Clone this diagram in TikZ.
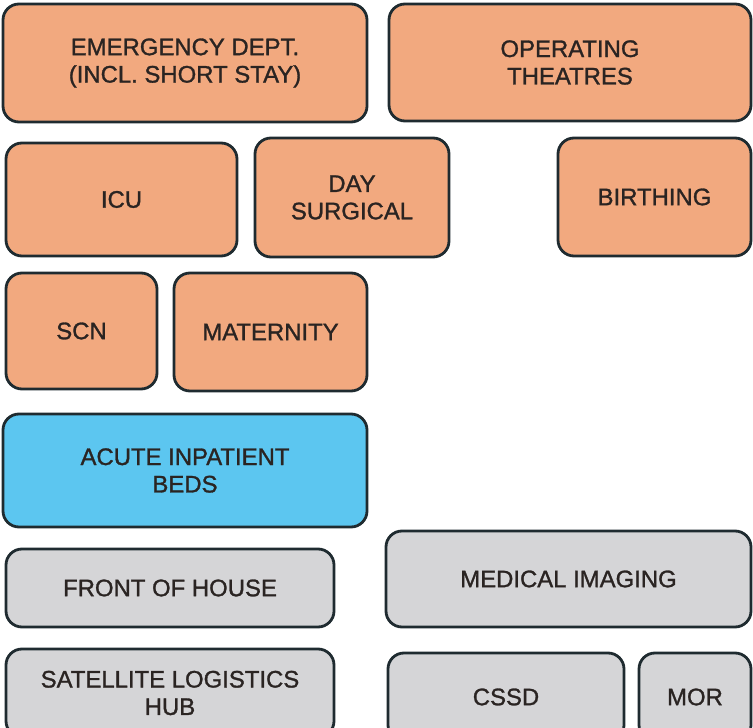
\documentclass[tikz,border=0pt]{standalone}
\usepackage{fontspec}
\setmainfont{Liberation Sans}
\newfontfamily\zonefont[FakeBold=1.2]{Liberation Sans}
\definecolor{Ward}{HTML}{F2A97F}
\definecolor{Beds}{HTML}{5CC6F0}
\definecolor{Support}{HTML}{D5D5D7}
\definecolor{Edge}{HTML}{1F2B30}
\definecolor{Ink}{HTML}{2A2422}

\begin{document}
\begin{tikzpicture}[x=0.25mm,y=-0.25mm,zone/.style={draw=Edge,line width=0.7mm,rounded corners=4mm,align=center,text=Ink,inner sep=0pt,font=\zonefont\fontsize{17}{19.5}\selectfont},ward/.style={zone,fill=Ward},beds/.style={zone,fill=Beds},support/.style={zone,fill=Support}]
    \useasboundingbox (0,0) rectangle (753,728);
    % clinical zones
    \node[ward,minimum width=91mm,minimum height=29.5mm] (ed) at (185,63) {EMERGENCY DEPT.\\(INCL. SHORT STAY)};
    \node[ward,minimum width=90.5mm,minimum height=29.25mm] (ot) at (570,62.5) {OPERATING\\THEATRES};
    \node[ward,minimum width=57.75mm,minimum height=28.25mm] (icu) at (121.5,199.5) {ICU};
    \node[ward,minimum width=48.5mm,minimum height=29.75mm] (day) at (352,197.5) {DAY\\SURGICAL};
    \node[ward,minimum width=48.25mm,minimum height=29.5mm] (birth) at (654.5,197) {BIRTHING};
    \node[ward,minimum width=37.75mm,minimum height=29mm] (scn) at (81.5,331) {SCN};
    \node[ward,minimum width=48.25mm,minimum height=29.5mm] (mat) at (270.5,332) {MATERNITY};
    \node[beds,minimum width=91mm,minimum height=28.25mm] (acute) at (185,470.5) {ACUTE INPATIENT\\BEDS};
    % support zones
    \node[support,minimum width=82mm,minimum height=19.5mm] (foh) at (170,588) {FRONT OF HOUSE};
    \node[support,minimum width=91.25mm,minimum height=24mm] (mi) at (568.5,579) {MEDICAL IMAGING};
    \node[support,minimum width=82mm,minimum height=22mm] (slh) at (170,693) {SATELLITE LOGISTICS\\HUB};
    \node[support,minimum width=59mm,minimum height=22mm] (cssd) at (506,697) {CSSD};
    \node[support,minimum width=28mm,minimum height=22mm] (mor) at (695,697) {MOR};
  \end{tikzpicture}
\end{document}
